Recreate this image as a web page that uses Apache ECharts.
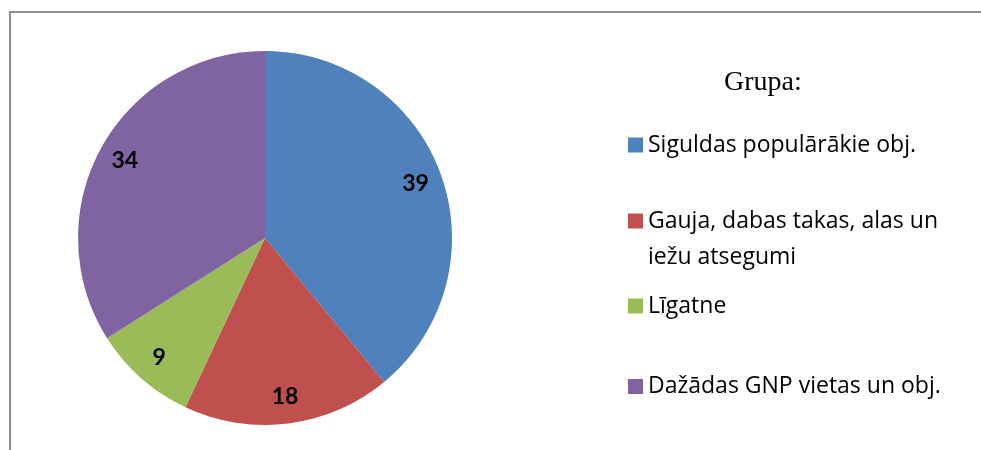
<!DOCTYPE html>
<html>
<head>
<meta charset="utf-8">
<script src="https://cdn.jsdelivr.net/npm/echarts@6/dist/echarts.min.js"></script>
<style>
html,body{margin:0;padding:0;background:#fff;}
#chart{width:981px;height:450px;}
</style>
</head>
<body>
<div id="chart"></div>
<script>
var categories = ['Siguldas populārākie obj.', 'Gauja, dabas takas, alas un iežu atsegumi', 'Līgatne', 'Dažādas GNP vietas un obj.'];
var values = [39, 18, 9, 34];
var colors = ['#4F81BD', '#C0504D', '#9BBB59', '#8064A2'];
var legendTitle = 'Grupa:';

var chart = echarts.init(document.getElementById('chart'), null, {renderer: 'canvas'});
var data = categories.map(function (c, i) { return {name: c, value: values[i]}; });

var legendTops = [133.5, 167, 294.5, 375];
var legends = categories.map(function (c, i) {
  var two = (i === 1);
  return {
    orient: 'vertical',
    left: 628,
    top: legendTops[i],
    padding: 0,
    itemWidth: 15,
    itemHeight: 15,
    icon: 'rect',
    selectedMode: false,
    data: [c],
    formatter: function (n) { return two ? '\n' + n.replace('alas un ', 'alas un\n') : n; },
    textStyle: {
      fontFamily: 'Open Sans', fontSize: 23, color: '#000', lineHeight: two ? 36 : 15
    }
  };
});

chart.setOption({
  animation: false,
  color: colors,
  legend: legends,
  graphic: [
    {type: 'polyline', shape: {points: [[10, 450], [10, 12], [981, 12]]}, style: {stroke: '#8e8e8e', lineWidth: 2, fill: null}, silent: true},
    {type: 'text', left: 724, top: 69, style: {text: legendTitle, font: '28px "Liberation Serif"', fill: '#000'}}
  ],
  series: [
    {
      type: 'pie',
      center: [265, 238],
      radius: [0, 187],
      startAngle: 90,
      clockwise: true,
      silent: true,
      label: {show: false},
      labelLine: {show: false},
      itemStyle: {borderWidth: 0},
      data: data
    },
    {
      type: 'pie',
      center: [265, 238],
      radius: [127, 187],
      startAngle: 90,
      clockwise: true,
      silent: true,
      legendHoverLink: false,
      itemStyle: {color: 'rgba(0,0,0,0)', borderWidth: 0},
      label: {show: true, position: 'inside', formatter: '{c}', fontFamily: 'Lato', fontWeight: 'bold', fontSize: 23, color: '#000'},
      labelLine: {show: false},
      data: data
    }
  ]
});
</script>
</body>
</html>
